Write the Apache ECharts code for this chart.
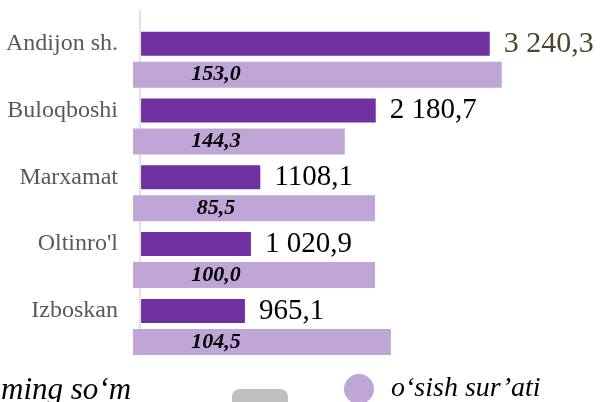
<!DOCTYPE html>
<html>
<head>
<meta charset="utf-8">
<script src="https://cdn.jsdelivr.net/npm/echarts@6/dist/echarts.min.js"></script>
<style>
html,body{margin:0;padding:0;background:#fff;}
#chart{width:603px;height:402px;}
</style>
</head>
<body>
<div id="chart"></div>
<script>
// ---- data ----
const categories = ['Andijon sh.', 'Buloqboshi', 'Marxamat', "Oltinro'l", 'Izboskan'];
const volumeValues = [3240.3, 2180.7, 1108.1, 1020.9, 965.1];
const volumeLabels = ['3 240,3', '2 180,7', '1108,1', '1 020,9', '965,1'];
const growthValues = [153.0, 144.3, 85.5, 100.0, 104.5];
// light bars as drawn (estimated length, hidden 0-100 scale)
const growthBarLengths = [84.1, 48.3, 55.2, 55.2, 58.8];
const seriesNames = ['ming so\u2018m', 'o\u2018sish sur\u2019ati'];

const FONT = 'Liberation Serif';
const DARK = '#7030A0';
const LIGHT = '#C0A6D6';

function fmtGrowth(v) { return v.toFixed(1).replace('.', ','); }

const chart = echarts.init(document.getElementById('chart'), null, {renderer: 'canvas'});

const option = {
  backgroundColor: '#ffffff',
  animation: false,
  grid: [
    {left: 133, top: 26.3, width: 438.5, height: 334, containLabel: false},
    {left: 139.5, top: 10, width: 10, height: 345, containLabel: false}
  ],
  xAxis: [
    {type: 'value', gridIndex: 0, min: -75, max: 4000, show: false},
    {type: 'value', gridIndex: 0, min: 0, max: 100, show: false},
    {type: 'value', gridIndex: 1, min: 0, max: 1, show: false}
  ],
  yAxis: [
    {
      type: 'category', gridIndex: 0, inverse: true, data: categories,
      axisLine: {show: false, onZero: false},
      axisTick: {show: false},
      splitLine: {show: false},
      axisLabel: {
        margin: 15, fontFamily: FONT, fontSize: 24, color: '#595959',
        verticalAlign: 'bottom', lineHeight: 32
      }
    },
    {
      type: 'category', gridIndex: 1, data: [''],
      axisLine: {show: true, onZero: false, lineStyle: {color: '#D9D9D9', width: 1.5}},
      axisTick: {show: false},
      axisLabel: {show: false},
      splitLine: {show: false}
    }
  ],
  legend: [
    {
      data: [seriesNames[0]], left: -24, top: 375, padding: 0,
      icon: 'rect', itemWidth: 20, itemHeight: 20, selectedMode: false,
      textStyle: {fontFamily: FONT, fontStyle: 'italic', fontSize: 31, color: '#000'}
    },
    {
      data: [seriesNames[1]], left: 344, top: 374, padding: 0,
      icon: 'circle', itemWidth: 32, itemHeight: 30, selectedMode: false,
      textStyle: {fontFamily: FONT, fontStyle: 'italic', fontSize: 28, color: '#000',
        padding: [0, 0, 10, 11]}
    }
  ],
  graphic: [
    {type: 'rect', left: 232, top: 389, silent: true,
     shape: {width: 56, height: 30, r: 8}, style: {fill: '#BFBFBF'}}
  ],
  series: [
    {
      name: seriesNames[0], type: 'bar', xAxisIndex: 0, yAxisIndex: 0,
      barWidth: 24, barGap: '25%',
      itemStyle: {color: DARK},
      data: volumeValues.map((v, i) => i === 0
        ? {value: v, label: {fontSize: 30, color: '#4A4630'}}
        : v),
      label: {
        show: true, position: 'right', distance: 14,
        fontFamily: FONT, fontSize: 29, color: '#000',
        formatter: p => volumeLabels[p.dataIndex]
      }
    },
    {
      name: seriesNames[1], type: 'bar', xAxisIndex: 1, yAxisIndex: 0,
      barWidth: 26,
      itemStyle: {color: LIGHT},
      data: growthBarLengths,
      label: {
        show: true, position: [83, '50%'], align: 'center', verticalAlign: 'middle',
        fontFamily: FONT, fontStyle: 'italic', fontWeight: 'bold', fontSize: 22, color: '#000',
        formatter: p => fmtGrowth(growthValues[p.dataIndex])
      }
    }
  ]
};
chart.setOption(option);
</script>
</body>
</html>
